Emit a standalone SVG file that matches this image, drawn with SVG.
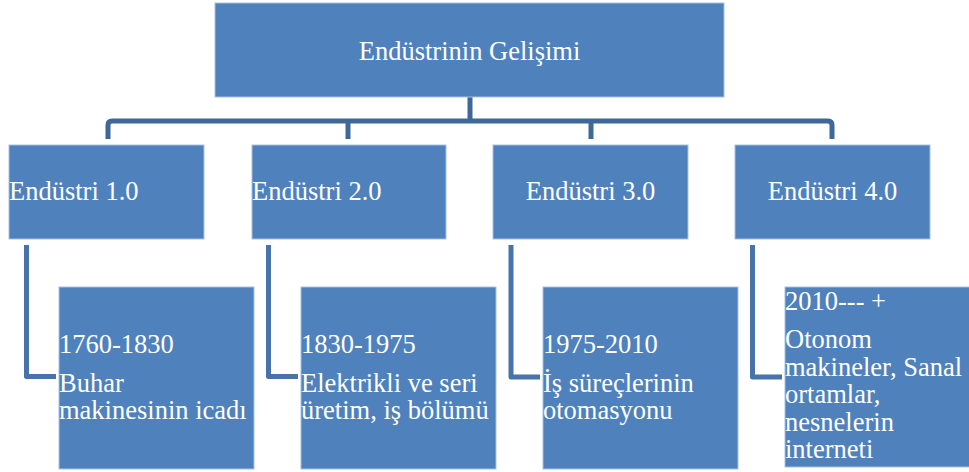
<svg xmlns="http://www.w3.org/2000/svg" width="969" height="472" viewBox="0 0 969 472">
<style>
.box{fill:#4F81BD;stroke:#A9C0DF;stroke-width:1}
.t{font-family:'Liberation Serif','Times New Roman',Tinos,'DejaVu Serif',serif;font-size:26.5px;fill:#FFFFFF}
.c{text-anchor:middle}
.top{fill:none;stroke:#3E6898;stroke-width:5;stroke-linejoin:round}
.elb{fill:none;stroke:#4873AA;stroke-width:5;stroke-linejoin:round}
</style>
<rect width="969" height="472" fill="#FFFFFF"/>
<g id="connectors">
<path class="top" d="M470,97 V121"/>
<path class="top" d="M108,139 V125 Q108,121 112,121 H828 Q832,121 832,125 V139"/>
<path class="top" d="M348,121 V139"/>
<path class="top" d="M591,121 V139"/>
<path class="elb" d="M26.5,245 V376.5 H56"/>
<path class="elb" d="M268.5,245 V376.5 H298"/>
<path class="elb" d="M511,245 V377 H540"/>
<path class="elb" d="M752.5,245 V377 H782"/>
</g>
<g id="root">
<rect class="box" x="215" y="3" width="509" height="94"/>
<text class="t c" x="469.5" y="60">Endüstrinin Gelişimi</text>
</g>
<g id="e1">
<rect class="box" x="9" y="145" width="195" height="94"/>
<text class="t" x="9" y="200">Endüstri 1.0</text>
</g>
<g id="e2">
<rect class="box" x="252" y="145" width="194" height="94"/>
<text class="t" x="252" y="200">Endüstri 2.0</text>
</g>
<g id="e3">
<rect class="box" x="493" y="145" width="195" height="94"/>
<text class="t c" x="590.5" y="200">Endüstri 3.0</text>
</g>
<g id="e4">
<rect class="box" x="735" y="145" width="195" height="94"/>
<text class="t c" x="832.5" y="200">Endüstri 4.0</text>
</g>
<g id="d1">
<rect class="box" x="59" y="287" width="195" height="182"/>
<text class="t" x="59" y="352.5">1760-1830</text>
<text class="t" x="59" y="391.5">Buhar</text>
<text class="t" x="59" y="418.5">makinesinin icadı</text>
</g>
<g id="d2">
<rect class="box" x="301" y="287" width="195" height="182"/>
<text class="t" x="301" y="352.5">1830-1975</text>
<text class="t" x="301" y="391.5">Elektrikli ve seri</text>
<text class="t" x="301" y="418.5">üretim, iş bölümü</text>
</g>
<g id="d3">
<rect class="box" x="543" y="287" width="195" height="182"/>
<text class="t" x="543" y="353">1975-2010</text>
<text class="t" x="543" y="392">İş süreçlerinin</text>
<text class="t" x="543" y="419">otomasyonu</text>
</g>
<g id="d4">
<rect class="box" x="785" y="287" width="195" height="180"/>
<text class="t" x="785" y="310">2010--- +</text>
<text class="t" x="785" y="348">Otonom</text>
<text class="t" x="785" y="375.5">makineler, Sanal</text>
<text class="t" x="785" y="403">ortamlar,</text>
<text class="t" x="785" y="430.5">nesnelerin</text>
<text class="t" x="785" y="458">interneti</text>
</g>
</svg>
